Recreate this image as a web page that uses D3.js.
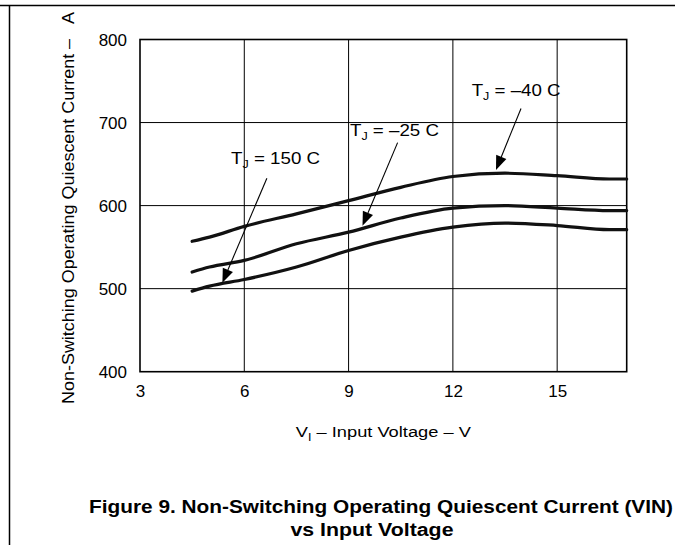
<!DOCTYPE html>
<html>
<head>
<meta charset="utf-8">
<script src="https://cdn.jsdelivr.net/npm/d3@7"></script>
<style>
  html, body { margin: 0; padding: 0; background: #fff; }
  svg { display: block; }
  text { font-family: "Liberation Sans", Arial, Helvetica, sans-serif; fill: #000; white-space: pre; }
</style>
</head>
<body>
<svg id="chart" width="675" height="545"></svg>
<script>
// ---- data ----
const vin   = [4.5, 5, 6, 7.5, 9, 10.5, 12, 13.5, 15, 16.5, 17];          // V_I (V)
const iqM40 = [557, 562, 575, 590, 606, 622, 635, 639, 636, 632, 632];   // T_J = -40 C
const iqM25 = [520, 526, 534, 554, 568, 585, 597, 600, 597, 594, 594];   // T_J = -25 C
const iq150 = [497, 503, 511, 526, 546, 562, 574, 579, 576, 571, 571];   // T_J = 150 C
const xTicks = [3, 6, 9, 12, 15];
const yTicks = [400, 500, 600, 700, 800];
const seriesTemps = ["150", "\u201325", "\u201340"];
// annotation anchors in data units: label start, arrow start, arrow tip
const annLabelV = [5.62, 9.04, 12.54];
const annLabelI = [649.6, 683.9, 732];
const annFromV  = [6.65, 10.41, 13.96];
const annFromI  = [633, 675.8, 717];
const annToV    = [5.37, 9.40, 13.24];
const annToI    = [507, 575.6, 643];

const svg = d3.select("#chart");
const W = 675, H = 545;
const x = d3.scaleLinear().domain([3, 17]).range([140, 626.7]);
const y = d3.scaleLinear().domain([400, 800]).range([371.7, 39.5]);

// page frame lines
svg.append("line").attr("x1", 0).attr("x2", W).attr("y1", 5.5).attr("y2", 5.5)
  .attr("stroke", "#000").attr("stroke-width", 1.5);
svg.append("line").attr("x1", 9.5).attr("x2", 9.5).attr("y1", 5.5).attr("y2", H)
  .attr("stroke", "#000").attr("stroke-width", 1.5);

// grid
const g = svg.append("g");
g.selectAll(".vg").data(xTicks.slice(1)).enter().append("line")
  .attr("x1", d => x(d)).attr("x2", d => x(d))
  .attr("y1", y(800)).attr("y2", y(400))
  .attr("stroke", "#000").attr("stroke-width", 1);
g.selectAll(".hg").data(yTicks.slice(1, -1)).enter().append("line")
  .attr("x1", x(3)).attr("x2", x(17))
  .attr("y1", d => y(d)).attr("y2", d => y(d))
  .attr("stroke", "#000").attr("stroke-width", 1);

// plot frame
g.append("rect").attr("x", x(3)).attr("y", y(800))
  .attr("width", x(17) - x(3)).attr("height", y(400) - y(800))
  .attr("fill", "none").attr("stroke", "#000").attr("stroke-width", 1.6);

// axes tick labels
const xAxis = d3.axisBottom(x).tickValues(xTicks).tickSize(0).tickPadding(0);
const xa = svg.append("g").attr("transform", `translate(0,${y(400)})`).call(xAxis);
xa.select(".domain").remove();
xa.selectAll("text").attr("font-size", 17).attr("dy", null).attr("y", 25.5)
  .style("font-family", "'Liberation Sans', Arial, sans-serif").attr("fill", "#000");

const yAxis = d3.axisLeft(y).tickValues(yTicks).tickSize(0).tickPadding(0);
const ya = svg.append("g").attr("transform", `translate(127,0)`).call(yAxis);
ya.select(".domain").remove();
ya.selectAll("text").attr("font-size", 17).attr("dy", "0.36em").attr("x", 0)
  .style("font-family", "'Liberation Sans', Arial, sans-serif").attr("fill", "#000");

// curves
const line = d3.line().x((d, i) => x(vin[i])).y(d => y(d)).curve(d3.curveMonotoneX);
[iqM40, iqM25, iq150].forEach(s => {
  svg.append("path").attr("d", line(s)).attr("fill", "none")
    .attr("stroke", "#111").attr("stroke-width", 3.2)
    .attr("stroke-linecap", "round").attr("stroke-linejoin", "round");
});

// annotations
seriesTemps.forEach((t, i) => {
  const t1 = svg.append("text").attr("x", x(annLabelV[i])).attr("y", y(annLabelI[i]))
    .attr("font-size", 16.5).attr("textLength", 89).attr("lengthAdjust", "spacingAndGlyphs");
  t1.append("tspan").text("T");
  t1.append("tspan").attr("font-size", 11).attr("dy", 4).text("J");
  t1.append("tspan").attr("dy", -4).text(" = " + t + " C");

  const x0 = x(annFromV[i]), y0 = y(annFromI[i]);
  const x1 = x(annToV[i]), y1 = y(annToI[i]);
  const ang = Math.atan2(y1 - y0, x1 - x0);
  const L = 14, hw = 5.5;
  const bx = x1 - L * Math.cos(ang), by = y1 - L * Math.sin(ang);
  svg.append("line").attr("x1", x0).attr("y1", y0).attr("x2", bx).attr("y2", by)
    .attr("stroke", "#000").attr("stroke-width", 1.1);
  const px = -Math.sin(ang) * hw, py = Math.cos(ang) * hw;
  svg.append("polygon")
    .attr("points", [[x1, y1], [bx + px, by + py], [bx - px, by - py]].map(p => p.join(",")).join(" "))
    .attr("fill", "#000");
});

// axis titles
const xt = svg.append("text").attr("x", (x(3) + x(17)) / 2).attr("y", 437)
  .attr("text-anchor", "middle").attr("font-size", 15.5)
  .attr("textLength", 175).attr("lengthAdjust", "spacingAndGlyphs");
xt.append("tspan").text("V");
xt.append("tspan").attr("font-size", 10.5).attr("dy", 4).text("I");
xt.append("tspan").attr("dy", -4).text(" \u2013 Input Voltage \u2013 V");

svg.append("text").attr("transform", "translate(74,208) rotate(-90)")
  .attr("text-anchor", "middle").attr("font-size", 16.5)
  .attr("textLength", 392).attr("lengthAdjust", "spacingAndGlyphs")
  .text("Non-Switching Operating Quiescent Current \u2013\u00a0\u00a0\u00a0A");

// figure caption
svg.append("text").attr("x", 381).attr("y", 512.5).attr("text-anchor", "middle")
  .attr("font-size", 18).attr("font-weight", "bold")
  .attr("textLength", 584).attr("lengthAdjust", "spacingAndGlyphs")
  .text("Figure 9. Non-Switching Operating Quiescent Current (VIN)");
svg.append("text").attr("x", 372).attr("y", 536).attr("text-anchor", "middle")
  .attr("font-size", 18).attr("font-weight", "bold")
  .attr("textLength", 163).attr("lengthAdjust", "spacingAndGlyphs")
  .text("vs Input Voltage");
</script>
</body>
</html>
